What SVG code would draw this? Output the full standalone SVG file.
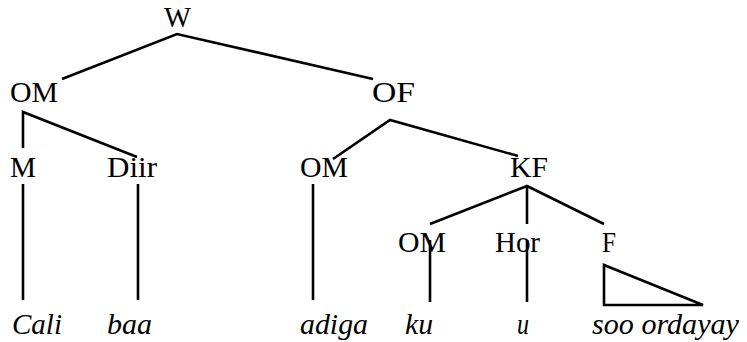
<svg xmlns="http://www.w3.org/2000/svg" width="747" height="342" viewBox="0 0 747 342">
<style>
.t{font-family:"Liberation Serif","DejaVu Serif",serif;font-size:30px;fill:#000}
.i{font-style:italic}
.e{stroke:#000;stroke-width:2.6;fill:none;stroke-linecap:butt}
</style>
<rect width="747" height="342" fill="#fff"/>
<g id="connectors">
<polyline class="e" points="62,79 177,34 373,79"/>
<polyline class="e" points="23,148 23,112 137,157"/>
<polyline class="e" points="333,159 390,120 518,156"/>
<polyline class="e" points="430,224 527,186 604,224"/>
<line class="e" x1="527" y1="186" x2="527" y2="224"/>
<line class="e" x1="23" y1="184" x2="23" y2="300"/>
<line class="e" x1="138" y1="184" x2="138" y2="300"/>
<line class="e" x1="313" y1="184" x2="313" y2="300"/>
<line class="e" x1="430" y1="240" x2="430" y2="302"/>
<line class="e" x1="527" y1="240" x2="527" y2="302"/>
<polygon class="e" points="604,265 604,305 703,305"/>
</g>
<g id="W"><text class="t" x="164" y="27" textLength="27" lengthAdjust="spacingAndGlyphs">W</text></g>
<g id="OM1"><text class="t" x="10" y="102" textLength="48" lengthAdjust="spacingAndGlyphs">OM</text></g>
<g id="OF"><text class="t" x="372" y="102" textLength="43" lengthAdjust="spacingAndGlyphs">OF</text></g>
<g id="M"><text class="t" x="10" y="177" textLength="26" lengthAdjust="spacingAndGlyphs">M</text></g>
<g id="Diir"><text class="t" x="107" y="177" textLength="50" lengthAdjust="spacingAndGlyphs">Diir</text></g>
<g id="OM2"><text class="t" x="300" y="177" textLength="48" lengthAdjust="spacingAndGlyphs">OM</text></g>
<g id="KF"><text class="t" x="510" y="177" textLength="38" lengthAdjust="spacingAndGlyphs">KF</text></g>
<g id="OM3"><text class="t" x="398" y="252" textLength="48" lengthAdjust="spacingAndGlyphs">OM</text></g>
<g id="Hor"><text class="t" x="495" y="252" textLength="45" lengthAdjust="spacingAndGlyphs">Hor</text></g>
<g id="F"><text class="t" x="602" y="252" textLength="14" lengthAdjust="spacingAndGlyphs">F</text></g>
<g id="Cali"><text class="t i" x="12" y="334" textLength="50" lengthAdjust="spacingAndGlyphs">Cali</text></g>
<g id="baa"><text class="t i" x="107" y="334" textLength="45" lengthAdjust="spacingAndGlyphs">baa</text></g>
<g id="adiga"><text class="t i" x="300" y="334" textLength="68" lengthAdjust="spacingAndGlyphs">adiga</text></g>
<g id="ku"><text class="t i" x="405" y="334" textLength="28" lengthAdjust="spacingAndGlyphs">ku</text></g>
<g id="u"><text class="t i" x="517" y="334" textLength="12" lengthAdjust="spacingAndGlyphs">u</text></g>
<g id="sooordayay"><text class="t i" x="592" y="334" textLength="147" lengthAdjust="spacingAndGlyphs">soo ordayay</text></g>
</svg>
